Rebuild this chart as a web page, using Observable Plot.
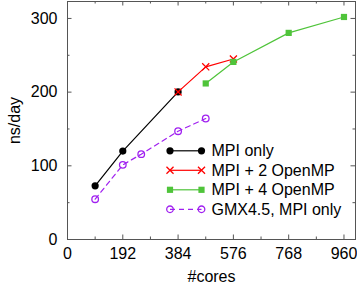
<!DOCTYPE html>
<html>
<head>
<meta charset="utf-8">
<script src="https://cdn.jsdelivr.net/npm/d3@7"></script>
<script src="https://cdn.jsdelivr.net/npm/@observablehq/plot@0.6"></script>
<style>
  html, body { margin: 0; padding: 0; background: #fff; }
  #chart svg { display: block; }
</style>
</head>
<body>
<div id="chart"></div>
<script>
// ---- data ----
const seriesNames = ["MPI only", "MPI + 2 OpenMP", "MPI + 4 OpenMP", "GMX4.5, MPI only"];
const coresMpiOnly = [96, 192, 384];
const nsMpiOnly = [72.8, 120, 200.3];
const coresMpi2 = [384, 480, 576];
const nsMpi2 = [200.3, 234.3, 245];
const coresMpi4 = [480, 576, 768, 960];
const nsMpi4 = [211.8, 241, 280.4, 302];
const coresGmx = [96, 192, 256, 384, 480];
const nsGmx = [54.7, 101.3, 115.8, 147, 164.2];
const xTicks = [0, 192, 384, 576, 768, 960];
const xMinorTicks = [96, 288, 480, 672, 864];
const yTicks = [0, 100, 200, 300];
const yMinorTicks = [50, 150, 250];

// ---- styles ----
const colors = ["#000000", "#ff0000", "#4fc43a", "#a020f0"];
const font = "'Liberation Sans', Arial, Helvetica, sans-serif";
const frameColor = "#555";

const toRows = (xs, ys) => xs.map((x, i) => ({x, y: ys[i]}));
const s1 = toRows(coresMpiOnly, nsMpiOnly);
const s2 = toRows(coresMpi2, nsMpi2);
const s3 = toRows(coresMpi4, nsMpi4);
const s4 = toRows(coresGmx, nsGmx);

const W = 357, H = 292;
const mL = 67, mR = 2, mT = 1, mB = 53;
const innerH = H - mT - mB;
const major = 4.5, minor = 2.5;

const chart = Plot.plot({
  width: W, height: H,
  marginLeft: mL, marginRight: mR, marginTop: mT, marginBottom: mB,
  style: {fontFamily: font, fontSize: "16px", color: "#000", background: "#fff", overflow: "visible"},
  x: {domain: [0, 1000]},
  y: {domain: [0, 323]},
  marks: [
    // tick labels
    Plot.axisX(xTicks, {tickSize: 0, tickPadding: 8, fontSize: 16, label: null}),
    Plot.axisY(yTicks, {tickSize: 0, tickPadding: 10, fontSize: 16, label: null}),
    // inward ticks (bottom, top)
    Plot.tickX(xTicks, {x: d => d, stroke: frameColor, insetTop: innerH - major}),
    Plot.tickX(xTicks, {x: d => d, stroke: frameColor, insetBottom: innerH - major}),
    Plot.tickX(xMinorTicks, {x: d => d, stroke: frameColor, insetTop: innerH - minor}),
    Plot.tickX(xMinorTicks, {x: d => d, stroke: frameColor, insetBottom: innerH - minor}),
    // inward ticks (left, right)
    Plot.tickY(yTicks, {y: d => d, stroke: frameColor, insetRight: (W - mL - mR) - major}),
    Plot.tickY(yTicks, {y: d => d, stroke: frameColor, insetLeft: (W - mL - mR) - major}),
    Plot.tickY(yMinorTicks, {y: d => d, stroke: frameColor, insetRight: (W - mL - mR) - minor}),
    Plot.tickY(yMinorTicks, {y: d => d, stroke: frameColor, insetLeft: (W - mL - mR) - minor}),
    Plot.frame({stroke: frameColor, strokeWidth: 1}),
    // axis titles
    Plot.text(["ns/day"], {frameAnchor: "left", text: d => d, rotate: -90, dx: -53, fontSize: 16, textAnchor: "middle", lineAnchor: "middle"}),
    Plot.text(["#cores"], {frameAnchor: "bottom", text: d => d, dy: 37, fontSize: 16, textAnchor: "middle", lineAnchor: "middle"}),
    // series
    Plot.line(s1, {x: "x", y: "y", stroke: colors[0], strokeWidth: 1.2}),
    Plot.dot(s1, {x: "x", y: "y", fill: colors[0], r: 3.6, symbol: "circle"}),
    Plot.line(s2, {x: "x", y: "y", stroke: colors[1], strokeWidth: 1.2}),
    Plot.dot(s2, {x: "x", y: "y", stroke: colors[1], r: 3.3, symbol: "times", strokeWidth: 1.3}),
    Plot.line(s3, {x: "x", y: "y", stroke: colors[2], strokeWidth: 1.2}),
    Plot.dot(s3, {x: "x", y: "y", fill: colors[2], r: 3.5, symbol: "square"}),
    Plot.line(s4, {x: "x", y: "y", stroke: colors[3], strokeWidth: 1.2, strokeDasharray: "5,4"}),
    Plot.dot(s4, {x: "x", y: "y", stroke: colors[3], fill: "none", r: 3.3, symbol: "circle", strokeWidth: 1.3})
  ]
});

// ---- legend (inside plot area) ----
const svg = d3.select(chart);
const lg = svg.append("g")
  .attr("font-family", font)
  .attr("font-size", 16)
  .attr("text-anchor", "start");
const lx0 = 170, lx1 = 201.5, tx = 211.5, ly0 = 150.8, dyRow = 19.5;
const symbols = [d3.symbolCircle, d3.symbolTimes, d3.symbolSquare, d3.symbolCircle];
const symSizes = [Math.PI * 3.6 * 3.6, Math.PI * 3.3 * 3.3, Math.PI * 3.5 * 3.5, Math.PI * 3.3 * 3.3];
seriesNames.forEach((name, i) => {
  const y = ly0 + i * dyRow;
  lg.append("line")
    .attr("x1", lx0).attr("x2", lx1).attr("y1", y).attr("y2", y)
    .attr("stroke", colors[i]).attr("stroke-width", 1.2)
    .attr("stroke-dasharray", i === 3 ? "5,4" : null);
  [lx0, lx1].forEach(x => {
    const p = lg.append("path")
      .attr("d", d3.symbol(symbols[i], symSizes[i])())
      .attr("transform", `translate(${x},${y})`);
    if (i === 0 || i === 2) p.attr("fill", colors[i]);
    else p.attr("fill", "none").attr("stroke", colors[i]).attr("stroke-width", 1.3);
  });
  lg.append("text")
    .attr("x", tx).attr("y", y).attr("dy", "0.35em")
    .attr("text-anchor", "start")
    .attr("fill", "#000")
    .text(name);
});

document.getElementById("chart").appendChild(chart);
</script>
</body>
</html>
